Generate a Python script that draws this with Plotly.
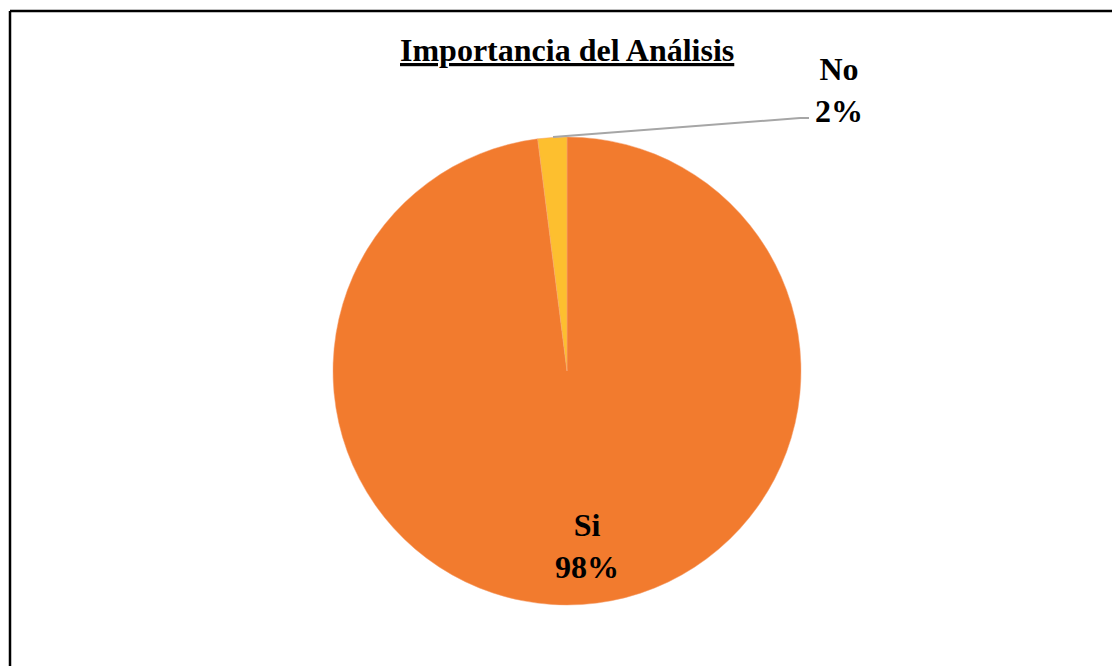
import plotly.graph_objects as go

title = "Importancia del Análisis"
labels = ["Si", "No"]
values = [98, 2]
colors = ["#F27B2E", "#FDBF2F"]

W, H = 1112, 658
OFF = 8  # default page margin of the html body


def px(x):
    return (x - OFF) / W


def py(y):
    return 1 - (y - OFF) / H


fig = go.Figure()
fig.add_trace(go.Pie(
    labels=labels, values=values, sort=False, direction="clockwise",
    rotation=0, textinfo="none", hoverinfo="label+percent",
    marker=dict(colors=colors, line=dict(color="#F4A070", width=0.5)),
    domain=dict(x=[px(333), px(801)], y=[py(605), py(137)]),
    showlegend=False,
))

font = dict(family="Liberation Serif, Times New Roman, serif", color="black")
pct = [v / sum(values) * 100 for v in values]
fig.add_annotation(x=px(567), y=py(50), xref="paper", yref="paper",
                   xanchor="center", yanchor="middle",
                   text="<b><u>%s</u></b>" % title, showarrow=False,
                   font=dict(size=32, **font))
fig.add_annotation(x=px(587), y=py(546), xref="paper", yref="paper",
                   xanchor="center", yanchor="middle",
                   text="<b>%s<br>%d%%</b>" % (labels[0], round(pct[0])), showarrow=False,
                   font=dict(size=32, **font))
fig.add_annotation(x=px(839), y=py(90), xref="paper", yref="paper",
                   xanchor="center", yanchor="middle",
                   text="<b>%s<br>%d%%</b>" % (labels[1], round(pct[1])), showarrow=False,
                   font=dict(size=32, **font))

border = dict(color="black", width=2.5)
fig.update_layout(
    width=W, height=H, margin=dict(l=0, r=0, t=0, b=0),
    paper_bgcolor="white", plot_bgcolor="white",
    shapes=[
        dict(type="line", xref="paper", yref="paper", x0=px(10), x1=px(10),
             y0=py(700), y1=py(11), line=border),
        dict(type="line", xref="paper", yref="paper", x0=px(10), x1=px(1160),
             y0=py(11), y1=py(11), line=border),
        dict(type="line", xref="paper", yref="paper", x0=px(553), y0=py(137),
             x1=px(800), y1=py(118), line=dict(color="#A6A6A6", width=2)),
        dict(type="line", xref="paper", yref="paper", x0=px(800), y0=py(118),
             x1=px(809), y1=py(118), line=dict(color="#A6A6A6", width=2)),
    ],
)
fig.write_html("out.html")
